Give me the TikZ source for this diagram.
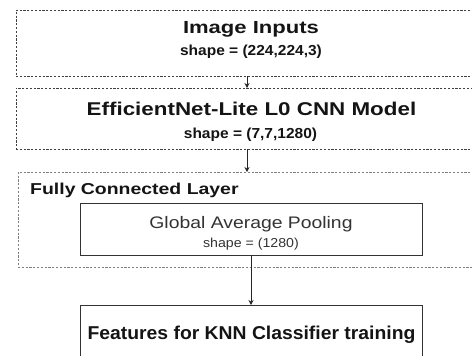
\documentclass[tikz,border=0pt]{standalone}
\usepackage{fontspec}
\setmainfont{Liberation Sans}
\usetikzlibrary{arrows.meta}
\newcommand{\sxtext}[3]{{\fontsize{#1}{#1}\selectfont\scalebox{#2}[1]{#3}}}
\begin{document}
\begin{tikzpicture}[x=1pt,y=-1pt,
  dbox/.style={draw=black!75, line width=0.8pt, dash pattern=on 2.2pt off 1.6pt, anchor=north west, inner sep=0pt, outer sep=0pt},
  lbox/.style={dbox, draw=black!50},
  sbox/.style={draw=black!80, line width=0.9pt, anchor=north west, inner sep=0pt, outer sep=0pt},
  lbl/.style={anchor=base, inner sep=0pt, text=black!92},
  conn/.style={draw=black!85, line width=0.9pt, -{Stealth[length=5pt,width=5pt]}}
]
\useasboundingbox (0,0) rectangle (472,356);
\clip (0,0) rectangle (472,356);
% boxes
\node[dbox, minimum width=462pt, minimum height=66pt] (b1) at (16,10) {};
\node[dbox, minimum width=462pt, minimum height=61pt] (b2) at (16,88) {};
\node[lbox, minimum width=458pt, minimum height=95pt] (b3) at (18,172) {};
\node[sbox, minimum width=342pt, minimum height=52pt] (gap) at (80,203) {};
\node[sbox, minimum width=342pt, minimum height=70pt] (feat) at (80,305) {};
% texts
\node[lbl] (t1) at (251,33.3) {\bfseries\sxtext{17.5}{1.26}{Image Inputs}};
\node[lbl] (s1) at (251,55) {\bfseries\sxtext{14.5}{1.07}{shape = (224,224,3)}};
\node[lbl] (t2) at (251.5,115.7) {\bfseries\sxtext{18.5}{1.21}{EfficientNet-Lite L0 CNN Model}};
\node[lbl] (s2) at (250.5,138) {\bfseries\sxtext{14.5}{1.07}{shape = (7,7,1280)}};
\node[lbl, anchor=base west] (t3) at (30,194) {\bfseries\sxtext{15.8}{1.23}{Fully Connected Layer}};
\node[lbl, text=black!80] (t4) at (251,228.3) {\sxtext{16.7}{1.16}{Global Average Pooling}};
\node[lbl, text=black!80] (s4) at (251,247) {\sxtext{13}{1.09}{shape = (1280)}};
\node[lbl] (t5) at (251.5,339) {\bfseries\sxtext{18.6}{1.04}{Features for KNN Classifier training}};
% connectors
\draw[conn] (b1) -- (b2);
\draw[conn] (b2) -- (b3);
\draw[conn] (gap) -- (feat);
\end{tikzpicture}
\end{document}
